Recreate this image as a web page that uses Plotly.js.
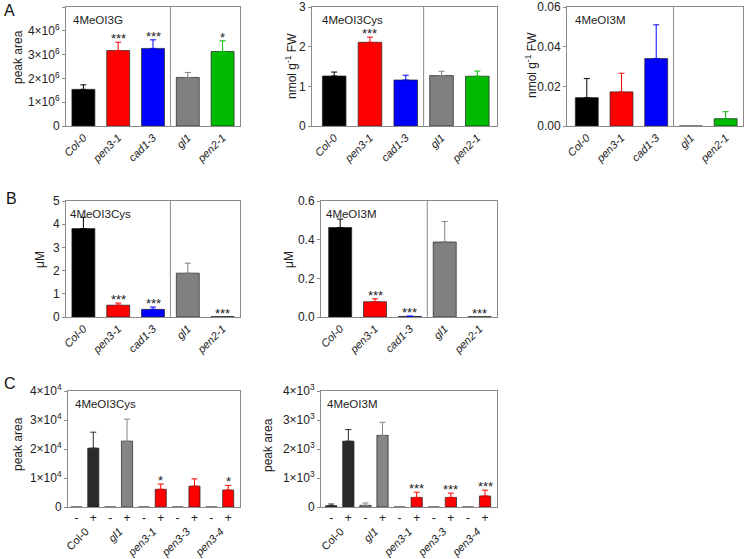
<!DOCTYPE html>
<html><head><meta charset="utf-8">
<script src="https://cdn.plot.ly/plotly-3.0.1.min.js"></script>
<style>html,body{margin:0;padding:0;background:#fff}#g{width:745px;height:559px}</style>
</head><body><div id="g"></div>
<script>
// ---------- data ----------
const genotypesAB = ['Col-0','pen3-1','cad1-3','gl1','pen2-1'];
const a1Values = [1.54e6, 3.17e6, 3.26e6, 2.04e6, 3.13e6];
const a1Errors = [0.19e6, 0.35e6, 0.36e6, 0.21e6, 0.45e6];
const a1Stars  = ['', '***', '***', '', '*'];
const a2Values = [1.26, 2.11, 1.16, 1.27, 1.255];
const a2Errors = [0.10, 0.13, 0.12, 0.11, 0.13];
const a2Stars  = ['', '***', '', '', ''];
const a3Values = [0.0143, 0.0172, 0.034, 0, 0.0037];
const a3Errors = [0.0096, 0.0094, 0.017, 0, 0.0035];
const a3Stars  = ['', '', '', '', ''];
const b1Values = [3.81, 0.51, 0.33, 1.89, 0.02];
const b1Errors = [0.49, 0.09, 0.10, 0.43, 0];
const b1Stars  = ['', '***', '***', '', '***'];
const b2Values = [0.463, 0.079, 0.003, 0.388, 0.002];
const b2Errors = [0.043, 0.015, 0.002, 0.106, 0];
const b2Stars  = ['', '***', '***', '', '***'];

const genotypesC = ['Col-0','gl1','pen3-1','pen3-3','pen3-4'];
const treatmentsC = ['-','+','-','+','-','+','-','+','-','+'];
const c1Values = [0, 2.03e4, 0, 2.27e4, 0, 0.61e4, 0, 0.72e4, 0, 0.585e4];
const c1Errors = [0, 0.55e4, 0, 0.76e4, 0, 0.18e4, 0, 0.25e4, 0, 0.16e4];
const c1Stars  = ['', '', '', '', '', '*', '', '', '', '*'];
const c2Values = [46, 2270, 57, 2470, 0, 330, 0, 330, 0, 380];
const c2Errors = [57, 400, 80, 450, 0, 180, 0, 150, 0, 200];
const c2Stars  = ['', '', '', '', '', '***', '', '***', '', '***'];

// ---------- style ----------
const FONT = 'Liberation Sans, Arial, sans-serif';
const colorsAB = ['#000000', '#ff0000', '#0000ff', '#808080', '#00bb00'];
const colorsC  = ['#2a2a2a', '#2a2a2a', '#858585', '#858585', '#ff0000', '#ff0000', '#ff0000', '#ff0000', '#ff0000', '#ff0000'];
const FRAME = '#8a8a8a';
const W = 745, H = 559;
const dx = (a, b) => [a / W, b / W];
const dy = (t, b) => [1 - b / H, 1 - t / H];

const traces = [];
const annotations = [];
const shapes = [];
const layout = {
  width: W, height: H, margin: {l: 0, r: 0, t: 0, b: 0},
  paper_bgcolor: '#fff', plot_bgcolor: '#fff',
  barmode: 'overlay', showlegend: false,
  font: {family: FONT, size: 12, color: '#222'}
};

function addPanel(n, box, xRange, yRange, yTicks, yText, values, errors, stars, colors, xTickText, title, titleDx, ytitle, ytitlePos, sep) {
  const xs = values.map((_, i) => i);
  values.forEach((v, i) => {
    traces.push({
      type: 'bar', x: [xs[i]], y: [v], width: 0.66,
      xaxis: 'x' + n, yaxis: 'y' + n, hoverinfo: 'skip',
      marker: {color: colors[i], line: {color: '#222', width: 0.7}},
      error_y: {type: 'data', symmetric: false, array: [errors[i]], arrayminus: [0],
                visible: errors[i] > 0, color: colors[i], thickness: 1, width: 3}
    });
    if (stars[i]) annotations.push({
      xref: 'x' + n, yref: 'y' + n, x: xs[i], y: v + errors[i], text: stars[i],
      showarrow: false, yanchor: 'bottom', yshift: -6, font: {size: 13, color: '#222'}
    });
  });
  const pm = xTickText[0].length === 1;
  layout['xaxis' + n] = {
    domain: dx(box[0], box[1]), anchor: 'y' + n, range: xRange,
    showline: true, mirror: true, linecolor: FRAME, linewidth: 1,
    showgrid: false, zeroline: false, ticks: '',
    tickmode: 'array', tickvals: xs, ticktext: xTickText,
    tickangle: pm ? 0 : -45, tickfont: {size: pm ? 12 : 11}
  };
  layout['yaxis' + n] = {
    domain: dy(box[2], box[3]), anchor: 'x' + n, range: yRange,
    showline: true, mirror: true, linecolor: FRAME, linewidth: 1,
    showgrid: false, zeroline: false, ticks: 'outside', ticklen: 3, tickcolor: FRAME,
    tickmode: 'array', tickvals: yTicks, ticktext: yText, tickfont: {size: 12}
  };
  annotations.push({xref: 'paper', yref: 'paper', x: (box[0] + titleDx) / W, y: 1 - (box[2] + 13) / H,
    text: title, showarrow: false, xanchor: 'left', yanchor: 'middle', font: {size: 11.5, color: '#222'}});
  annotations.push({xref: 'paper', yref: 'paper', x: ytitlePos[0] / W, y: 1 - ytitlePos[1] / H,
    text: ytitle, showarrow: false, textangle: -90, xanchor: 'center', yanchor: 'middle', font: {size: 12, color: '#222'}});
  if (sep) shapes.push({type: 'line', xref: 'x' + n, yref: 'y' + n + ' domain', x0: 2.5, x1: 2.5, y0: 0, y1: 1,
    line: {color: FRAME, width: 1}});
}

const italicAB = genotypesAB.map(g => '<i>' + g + '</i>');
const sci = (e) => [0,1,2,3,4,5].map(k => k === 0 ? '0' : k + '×10<sup>' + e + '</sup>');

addPanel(1, [66, 240, 7, 126], [-0.5, 4.5], [0, 5e6], [0,1e6,2e6,3e6,4e6,5e6], sci(6),
  a1Values, a1Errors, a1Stars, colorsAB, italicAB, '4MeOI3G', 5, 'peak area', [18, 57], true);
addPanel(2, [312, 497, 7, 126], [-0.62, 4.55], [0, 3], [0,1,2,3], ['0','1','2','3'],
  a2Values, a2Errors, a2Stars, colorsAB, italicAB, '4MeOI3Cys', 8, 'nmol g<sup>-1</sup> FW', [291, 66], true);
addPanel(3, [567, 743, 7, 126], [-0.57, 4.5], [0, 0.06], [0,0.02,0.04,0.06], ['0.00','0.02','0.04','0.06'],
  a3Values, a3Errors, a3Stars, colorsAB, italicAB, '4MeOI3M', 6, 'nmol g<sup>-1</sup> FW', [531, 65], true);
addPanel(4, [66, 240, 201, 317], [-0.5, 4.5], [0, 5], [0,1,2,3,4,5], ['0','1','2','3','4','5'],
  b1Values, b1Errors, b1Stars, colorsAB, italicAB, '4MeOI3Cys', 2, 'μM', [40, 260], true);
addPanel(5, [321, 497, 201, 317], [-0.55, 4.5], [0, 0.6], [0,0.2,0.4,0.6], ['0.0','0.2','0.4','0.6'],
  b2Values, b2Errors, b2Stars, colorsAB, italicAB, '4MeOI3M', 3, 'μM', [289, 260], true);
addPanel(6, [68, 240, 391, 507], [-0.5, 9.7], [0, 4e4], [0,1e4,2e4,3e4,4e4], sci(4).slice(0,5),
  c1Values, c1Errors, c1Stars, colorsC, treatmentsC, '4MeOI3Cys', 5, 'peak area', [18, 444], false);
addPanel(7, [321, 497, 391, 507], [-0.6, 9.7], [0, 4e3], [0,1e3,2e3,3e3,4e3], sci(3).slice(0,5),
  c2Values, c2Errors, c2Stars, colorsC, treatmentsC, '4MeOI3M', 4, 'peak area', [268, 445], false);

// group labels for panel C on overlay axes
const groupText = genotypesC.map(g => g === 'Col-0' ? g : '<i>' + g + '</i>');
const groupPos = genotypesC.map((_, i) => 2 * i + 0.55);
[[8, 6], [9, 7]].forEach(([o, base]) => {
  layout['xaxis' + o] = {
    overlaying: 'x' + base, anchor: 'free', position: 1 - 522 / H,
    range: layout['xaxis' + base].range, showline: false, showgrid: false, zeroline: false, ticks: '',
    tickmode: 'array', tickvals: groupPos, ticktext: groupText, tickangle: -45, tickfont: {size: 11}
  };
  traces.push({type: 'scatter', x: [null], y: [null], xaxis: 'x' + o, yaxis: 'y' + base, hoverinfo: 'skip'});
});

// panel letters
[['A', 2, 10], ['B', 4, 198], ['C', 2, 384]].forEach(([t, x, y]) => annotations.push({
  xref: 'paper', yref: 'paper', x: x / W, y: 1 - y / H, text: t, showarrow: false,
  xanchor: 'left', yanchor: 'middle', font: {size: 16, color: '#111'}}));

layout.annotations = annotations;
layout.shapes = shapes;
Plotly.newPlot('g', traces, layout, {staticPlot: true});
</script></body></html>
